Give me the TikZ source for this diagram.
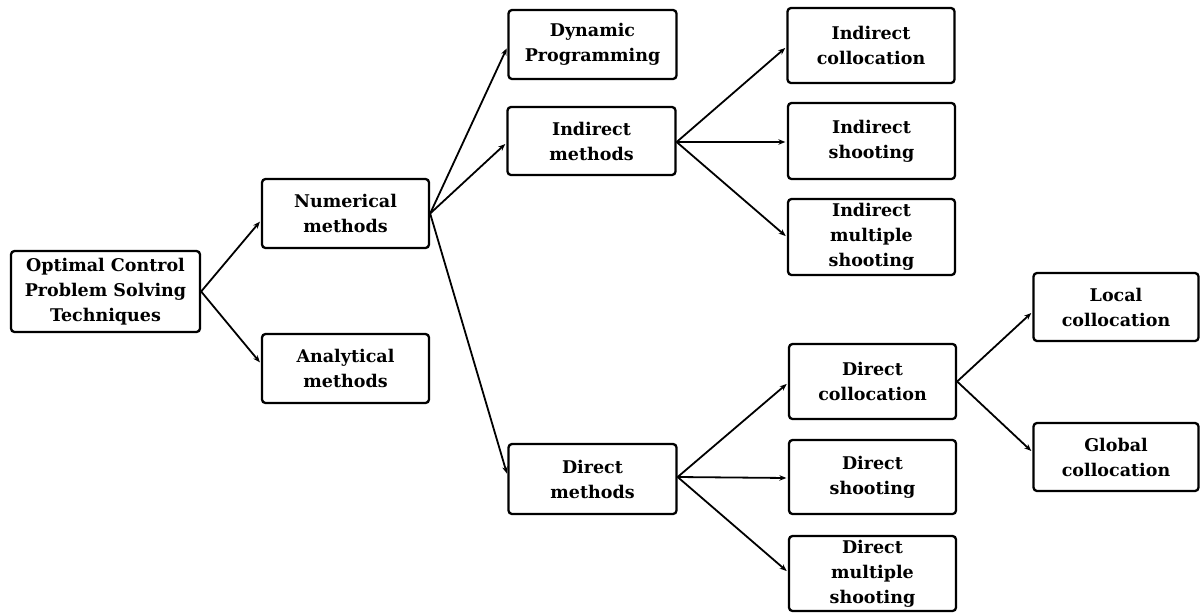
\documentclass[tikz,border=0pt]{standalone}
\usepackage{fontspec}
\setmainfont{DejaVu Serif}
\usetikzlibrary{arrows.meta}
\begin{document}
\begin{tikzpicture}[x=1pt,y=-1pt,
  box/.style={draw, line width=2.3pt, rounded corners=3.5pt, inner sep=0pt,
    minimum width=#1, align=center, font=\fontsize{17.5}{25}\selectfont\bfseries},
  box/.default=167pt,
  link/.style={line width=1.8pt, shorten >=1.5pt,
    -{Stealth[length=7pt,width=5.5pt]}}]
\useasboundingbox (0,0) rectangle (1202,614);
% root and first level
\node[box=189pt, minimum height=81pt] (ocp) at (105.5,291.5) {Optimal Control\\Problem Solving\\Techniques};
\node[box, minimum height=69pt] (num) at (345.5,213.5) {Numerical\\methods};
\node[box, minimum height=69pt] (ana) at (345.5,368.5) {Analytical\\methods};
% second level
\node[box=168pt, minimum height=69pt] (dp) at (592.5,44.5) {Dynamic\\Programming};
\node[box=168pt, minimum height=68pt] (ind) at (591.5,141) {Indirect\\methods};
\node[box=168pt, minimum height=70pt] (dir) at (592.5,479) {Direct\\methods};
% indirect branch
\node[box, minimum height=75pt] (icol) at (871,45.5) {Indirect\\collocation};
\node[box, minimum height=76pt] (ish) at (871.5,141) {Indirect\\shooting};
\node[box, minimum height=76pt] (ims) at (871.5,237) {Indirect\\multiple\\shooting};
% direct branch
\node[box, minimum height=75pt] (dcol) at (872.5,381.5) {Direct\\collocation};
\node[box, minimum height=74pt] (dsh) at (872.5,477) {Direct\\shooting};
\node[box, minimum height=75pt] (dms) at (872.5,573.5) {Direct\\multiple\\shooting};
% collocation variants
\node[box=165pt, minimum height=68pt] (loc) at (1116,307) {Local\\collocation};
\node[box=165pt, minimum height=68pt] (glo) at (1116,457) {Global\\collocation};
% connectors
\draw[link] (ocp.east) -- ([yshift=-7pt]num.west);
\draw[link] (ocp.east) -- ([yshift=5pt]ana.west);
\draw[link] (num.east) -- ([yshift=-2.5pt]dp.west);
\draw[link] (num.east) -- ([yshift=-2pt]ind.west);
\draw[link] (num.east) -- ([yshift=4pt]dir.west);
\draw[link] ([yshift=-1pt]ind.east) -- ([yshift=-1.5pt]icol.west);
\draw[link] ([yshift=-1pt]ind.east) -- ([yshift=-1pt]ish.west);
\draw[link] ([yshift=-1pt]ind.east) -- (ims.west);
\draw[link] ([yshift=2pt]dir.east) -- ([yshift=-1.5pt]dcol.west);
\draw[link] ([yshift=2pt]dir.east) -- ([yshift=-1pt]dsh.west);
\draw[link] ([yshift=2pt]dir.east) -- ([yshift=1.5pt]dms.west);
\draw[link] (dcol.east) -- ([yshift=-5pt]loc.west);
\draw[link] (dcol.east) -- ([yshift=5pt]glo.west);
\end{tikzpicture}
\end{document}
